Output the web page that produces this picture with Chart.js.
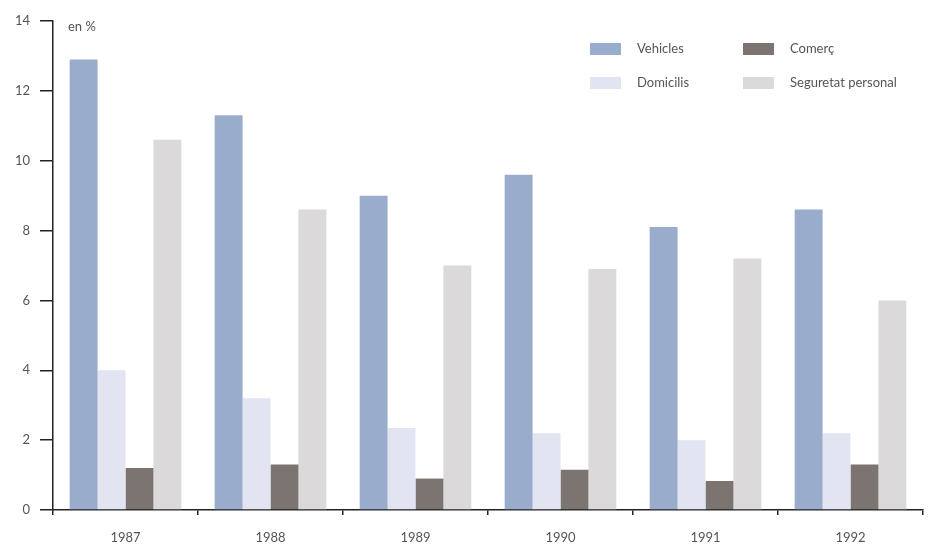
<!DOCTYPE html>
<html>
<head>
<meta charset="utf-8">
<script src="https://cdn.jsdelivr.net/npm/chart.js@4/dist/chart.umd.min.js"></script>
<style>
  html, body { margin: 0; padding: 0; background: #fff; }
  #wrap { width: 929px; height: 546px; position: relative; }
</style>
</head>
<body>
<div id="wrap"><canvas id="chart" width="929" height="546"></canvas></div>
<script>
// data
const years = ['1987', '1988', '1989', '1990', '1991', '1992'];
const vehicles = [12.9, 11.3, 9.0, 9.6, 8.1, 8.6];
const domicilis = [4.0, 3.2, 2.35, 2.2, 2.0, 2.2];
const comerc = [1.2, 1.3, 0.9, 1.15, 0.83, 1.3];
const seguretat = [10.6, 8.6, 7.0, 6.9, 7.2, 6.0];
const yTicks = [0, 2, 4, 6, 8, 10, 12, 14];

const fontName = 'Lato, "Open Sans", sans-serif';
const textColor = '#555';

// legend drawn by hand so it sits in two columns like the original
const legendSpots = [
    { x: 590, y: 49 },  // Vehicles
    { x: 590, y: 83 },  // Domicilis
    { x: 743, y: 49 },  // Comerç
    { x: 743, y: 83 }   // Seguretat personal
];
const legendPlugin = {
    id: 'handLegend',
    afterDraw(chart) {
        const ctx = chart.ctx;
        ctx.save();
        ctx.font = '13px ' + fontName;
        ctx.textBaseline = 'middle';
        chart.data.datasets.forEach(function (ds, i) {
            const spot = legendSpots[i];
            ctx.fillStyle = ds.backgroundColor;
            ctx.fillRect(spot.x, spot.y - 6, 31, 12);
            ctx.fillStyle = textColor;
            ctx.fillText(ds.label, spot.x + 47, spot.y);
        });
        // unit label next to the top of the y axis
        ctx.fillText('en %', 68, 27);
        ctx.restore();
    }
};

const ctx = document.getElementById('chart').getContext('2d');
new Chart(ctx, {
    type: 'bar',
    data: {
        labels: years,
        datasets: [
            { label: 'Vehicles', data: vehicles, backgroundColor: '#9aaccb' },
            { label: 'Domicilis', data: domicilis, backgroundColor: '#e2e5f1' },
            { label: 'Comerç', data: comerc, backgroundColor: '#7b7470' },
            { label: 'Seguretat personal', data: seguretat, backgroundColor: '#dbd9d9' }
        ]
    },
    options: {
        responsive: false,
        animation: false,
        layout: { padding: { top: 21, right: 6, bottom: 0, left: 0 } },
        datasets: {
            bar: { categoryPercentage: 0.77, barPercentage: 1.0, borderWidth: 0 }
        },
        plugins: {
            legend: { display: false },
            tooltip: { enabled: false }
        },
        scales: {
            x: {
                afterFit(scale) { scale.height = 36; },
                grid: {
                    display: true,
                    drawOnChartArea: false,
                    drawTicks: true,
                    tickLength: 5,
                    color: '#222',
                    lineWidth: 1.5
                },
                border: { display: true, color: '#222', width: 1.5 },
                ticks: {
                    color: textColor,
                    font: { family: fontName, size: 13 },
                    padding: 15
                }
            },
            y: {
                min: 0,
                max: 14,
                afterFit(scale) { scale.width = 53; },
                afterBuildTicks(scale) {
                    scale.ticks = yTicks.map(function (v) { return { value: v }; });
                },
                grid: {
                    display: true,
                    drawOnChartArea: false,
                    drawTicks: true,
                    tickLength: 13,
                    color: '#222',
                    lineWidth: 1.5
                },
                border: { display: true, color: '#222', width: 1.5 },
                ticks: {
                    color: textColor,
                    font: { family: fontName, size: 13 },
                    padding: 10
                }
            }
        }
    },
    plugins: [legendPlugin]
});
</script>
</body>
</html>
